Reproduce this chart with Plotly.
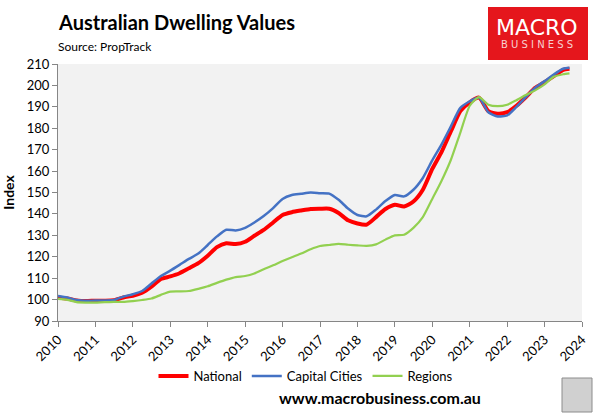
import plotly.graph_objects as go

dates = [
    "2010-01-01", "2010-04-01", "2010-07-01", "2010-10-01",
    "2011-01-01", "2011-04-01", "2011-07-01", "2011-10-01",
    "2012-01-01", "2012-04-01", "2012-07-01", "2012-10-01",
    "2013-01-01", "2013-04-01", "2013-07-01", "2013-10-01",
    "2014-01-01", "2014-04-01", "2014-07-01", "2014-10-01",
    "2015-01-01", "2015-04-01", "2015-07-01", "2015-10-01",
    "2016-01-01", "2016-04-01", "2016-07-01", "2016-10-01",
    "2017-01-01", "2017-04-01", "2017-07-01", "2017-10-01",
    "2018-01-01", "2018-04-01", "2018-07-01", "2018-10-01",
    "2019-01-01", "2019-04-01", "2019-07-01", "2019-10-01",
    "2020-01-01", "2020-04-01", "2020-07-01", "2020-10-01",
    "2021-01-01", "2021-04-01", "2021-07-01", "2021-10-01",
    "2022-01-01", "2022-04-01", "2022-07-01", "2022-10-01",
    "2023-01-01", "2023-04-01", "2023-07-01", "2023-09-01",
]

national = [
    100.9, 100.5, 99.6, 99.3,
    99.5, 99.5, 99.7, 101.0,
    101.8, 103.2, 106.0, 109.6,
    110.8, 112.3, 114.6, 117.0,
    120.5, 124.5, 126.3, 125.9,
    127.0, 129.8, 132.5, 136.0,
    139.5, 140.8, 141.6, 142.3,
    142.4, 142.4, 140.4, 137.0,
    135.5, 135.0, 138.5, 142.3,
    144.3, 143.5, 145.8, 151.3,
    161.0, 169.0, 178.6, 188.0,
    192.1, 194.3, 188.0, 186.8,
    187.5, 190.5, 194.5, 198.9,
    201.5, 204.3, 207.3, 207.8,
]

capital_cities = [
    101.7, 101.0, 99.8, 99.4,
    99.6, 99.6, 99.8, 101.4,
    102.5, 104.0, 107.5, 111.0,
    113.5, 116.2, 119.0, 121.5,
    125.5, 129.5, 132.6, 132.3,
    133.5, 136.0, 139.0, 142.7,
    147.0, 148.8, 149.4, 150.0,
    149.7, 149.5, 146.6, 142.5,
    139.5, 138.9, 142.0, 146.0,
    148.8, 148.2, 151.3, 156.8,
    165.0, 172.5, 180.9, 189.5,
    192.6, 194.3, 187.5, 185.5,
    186.0, 190.0, 194.5, 198.9,
    202.0, 205.1, 207.8, 208.3,
]

regions = [
    100.3, 99.9, 98.8, 98.6,
    98.6, 98.8, 98.9, 98.9,
    99.3, 99.8, 100.5, 102.2,
    103.7, 103.8, 104.0, 105.0,
    106.2, 107.8, 109.3, 110.5,
    111.0, 112.2, 114.2, 116.0,
    118.0, 119.8, 121.5, 123.5,
    125.0, 125.5, 126.0, 125.6,
    125.3, 125.1, 125.8, 128.0,
    130.0, 130.3, 133.5, 138.5,
    147.0, 155.5, 165.3, 178.0,
    190.5, 194.5, 191.0, 190.3,
    191.0, 193.1, 195.5, 197.7,
    200.5, 204.0, 205.2, 205.6,
]

year_ticks = [f"{y}-01-01" for y in range(2010, 2025)]
year_labels = [str(y) for y in range(2010, 2025)]

W, H = 596, 413
L, R, T, B = 58, 14, 64, 92
PW, PH = W - L - R, H - T - B


def px(x):
    return (x - L) / PW


def py(y):
    return (H - B - y) / PH


fig = go.Figure()
fig.add_trace(go.Scatter(x=dates, y=national, name="National", mode="lines",
                         line=dict(color="#FF0000", width=4, shape="spline", smoothing=0.6)))
fig.add_trace(go.Scatter(x=dates, y=capital_cities, name="Capital Cities", mode="lines",
                         line=dict(color="#4472C4", width=2.5, shape="spline", smoothing=0.6)))
fig.add_trace(go.Scatter(x=dates, y=regions, name="Regions", mode="lines",
                         line=dict(color="#92D050", width=2.2, shape="spline", smoothing=0.6)))

font_family = "Lato, 'Liberation Sans', Arial, sans-serif"

fig.update_layout(
    width=W, height=H,
    margin=dict(l=L, r=R, t=T, b=B, autoexpand=False),
    paper_bgcolor="white",
    plot_bgcolor="#F2F2F2",
    font=dict(family=font_family, size=13, color="#000000"),
    showlegend=True,
    legend=dict(orientation="h", x=px(306), xanchor="center", y=py(376), yanchor="middle",
                font=dict(size=13), bgcolor="rgba(0,0,0,0)",
                tracegroupgap=0),
    xaxis=dict(
        type="date",
        range=["2010-01-01", "2024-01-01"],
        tickvals=year_ticks, ticktext=year_labels,
        tickangle=-45,
        ticks="outside", ticklen=5, tickcolor="#868686",
        showline=True, linecolor="#868686", linewidth=1,
        showgrid=False, zeroline=False, automargin=False,
        tickfont=dict(size=13),
    ),
    yaxis=dict(
        range=[90, 210], dtick=10, tick0=90,
        ticks="outside", ticklen=5, tickcolor="#868686",
        showline=True, linecolor="#868686", linewidth=1,
        showgrid=False, zeroline=False, automargin=False,
        title=dict(text="<b>Index</b>", font=dict(size=14), standoff=12),
        tickfont=dict(size=13),
    ),
)

annotations = [
    dict(text="<b>Australian Dwelling Values</b>", x=px(56), y=py(22), xref="paper", yref="paper",
         xanchor="left", yanchor="middle", showarrow=False, font=dict(size=20, family=font_family)),
    dict(text="Source: PropTrack", x=px(56), y=py(46), xref="paper", yref="paper",
         xanchor="left", yanchor="middle", showarrow=False, font=dict(size=12, family=font_family)),
    dict(text="MACRO", x=px(537), y=py(27), xref="paper", yref="paper",
         xanchor="center", yanchor="middle", showarrow=False,
         font=dict(size=22, color="white", family="'DejaVu Sans', sans-serif")),
    dict(text="B U S I N E S S", x=px(537), y=py(44), xref="paper", yref="paper",
         xanchor="center", yanchor="middle", showarrow=False,
         font=dict(size=10, color="#F6D0D0", family="'DejaVu Sans', sans-serif")),
    dict(text="<b>www.macrobusiness.com.au</b>", x=px(380), y=py(397), xref="paper", yref="paper",
         xanchor="center", yanchor="middle", showarrow=False, font=dict(size=16, family=font_family)),
]
fig.update_layout(annotations=annotations)

shapes = [
    dict(type="rect", xref="paper", yref="paper", x0=px(488), x1=px(588), y0=py(60), y1=py(7),
         fillcolor="#E5161C", line=dict(width=0), layer="below"),
    dict(type="rect", xref="paper", yref="paper", x0=px(562), x1=px(592), y0=py(412), y1=py(378),
         fillcolor="#D0D0D0", line=dict(color="#8C8C8C", width=1), layer="above"),
]
fig.update_layout(shapes=shapes)

fig.write_html("out.html", config={"displayModeBar": False},
               post_script="document.body.style.margin='0';document.body.style.overflow='hidden';")
